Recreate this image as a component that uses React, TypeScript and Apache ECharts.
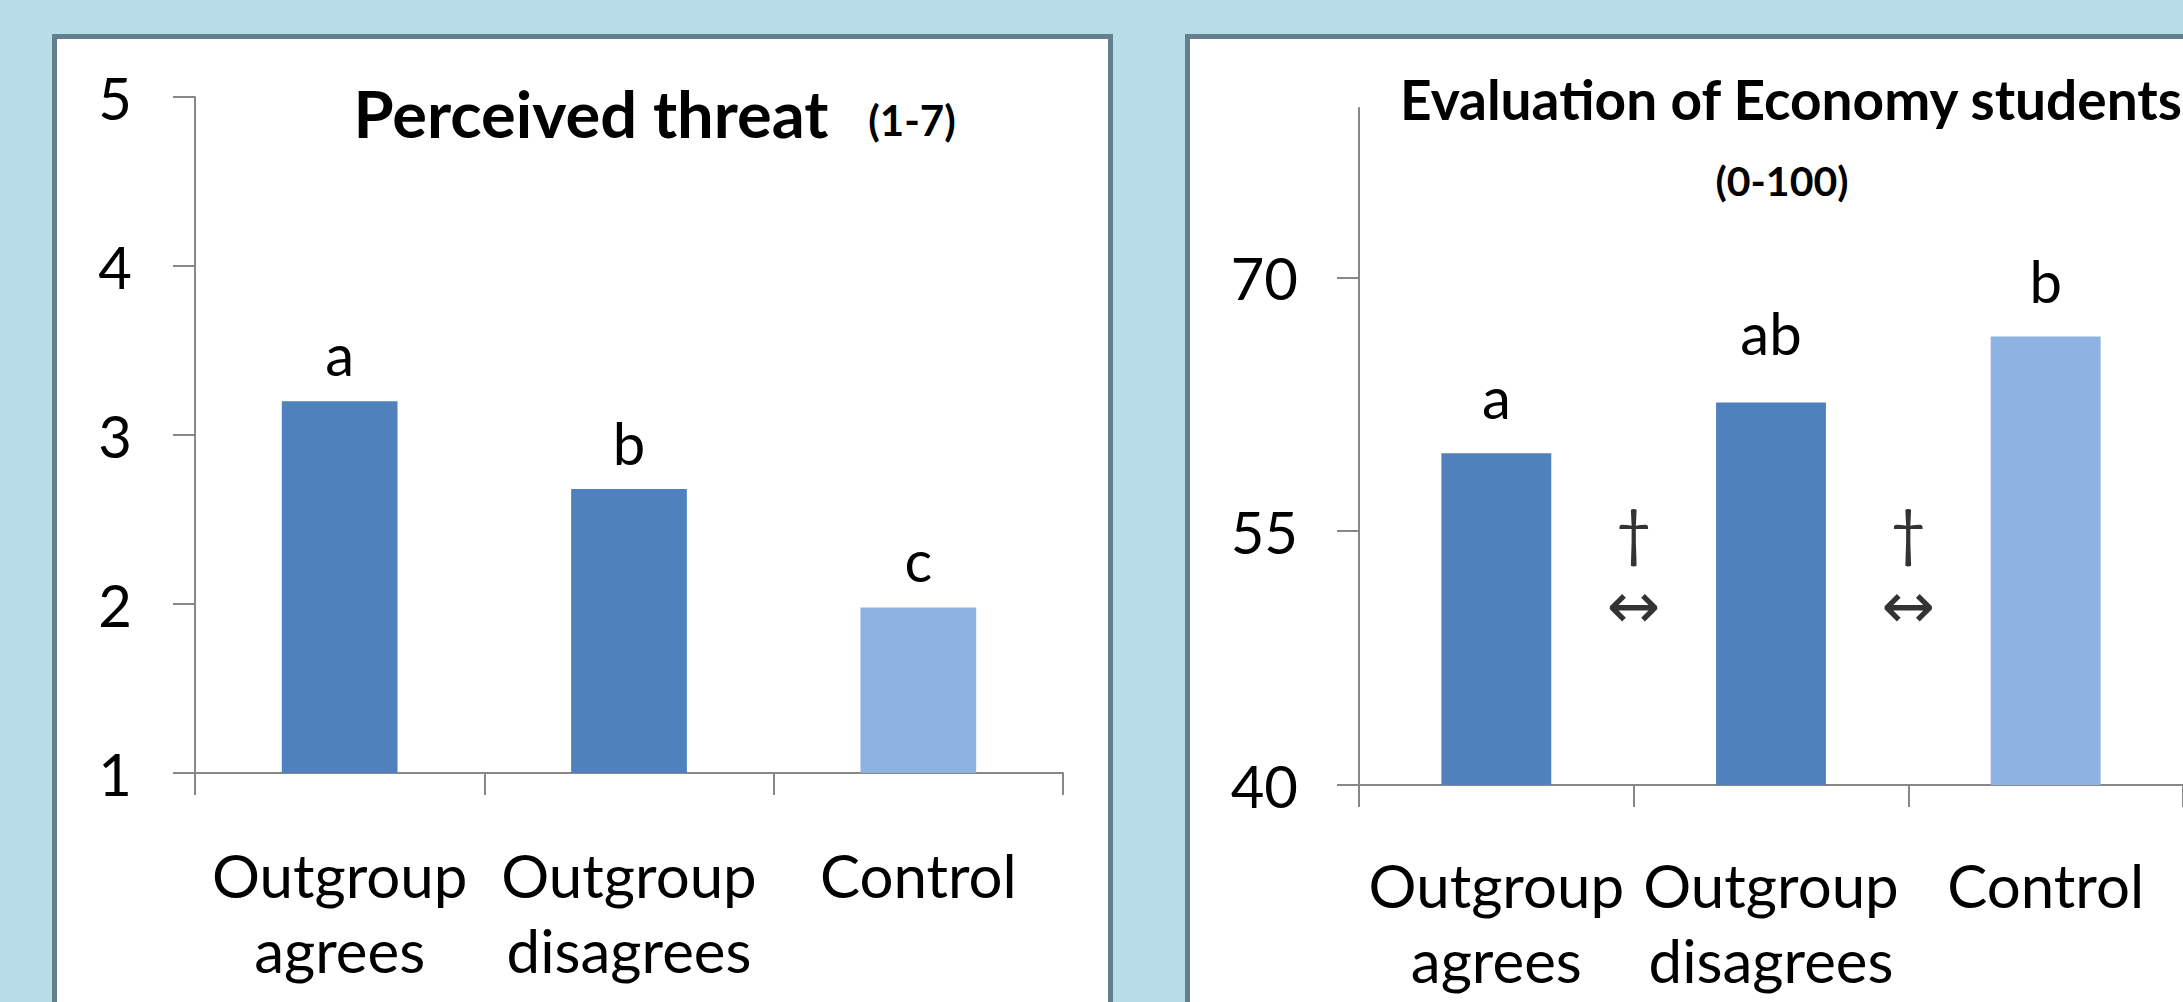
import React, { useEffect, useRef } from "react";
import * as echarts from "echarts";

// ---- data ----
const categories = ["Outgroup\nagrees", "Outgroup\ndisagrees", "Control"];
const threatTicks = [1, 2, 3, 4, 5];
const threatValues = [3.2, 2.68, 1.98];
const threatLetters = ["a", "b", "c"];
const evalTicks = [40, 55, 70];
const evalValues = [59.6, 62.6, 66.5];
const evalLetters = ["a", "ab", "b"];
const sigPositions = [0.5, 1.5]; // between neighbouring categories
const sigDaggerValue = 55;
const sigArrowValue = 50.6;

// ---- styles ----
const DARK = "#4f81bd";
const LIGHT = "#8db3e2";
const barColors = [DARK, DARK, LIGHT];
const threatLabelGaps = [19, 18, 19];
const evalLabelGaps = [28, 41, 27];
const AXIS = "#878787";
const FONT = "Lato";
const LABEL_SIZE = 58;
const CAT_SIZE = 60;

export default function App() {
  const ref = useRef<HTMLDivElement>(null);
  useEffect(() => {
    if (!ref.current) return;
    const chart = echarts.init(ref.current, null, { renderer: "svg" });
    const axisLineStyle = { color: AXIS, width: 2 };
    const catAxis = (grid: number, margin: number) => ({
      type: "category",
      gridIndex: grid,
      data: categories,
      axisLine: { show: true, onZero: false, lineStyle: axisLineStyle },
      axisTick: { show: true, length: 22, inside: false, lineStyle: axisLineStyle },
      axisLabel: {
        interval: 0,
        margin,
        fontSize: CAT_SIZE,
        lineHeight: 75,
        color: "#000",
        fontFamily: FONT,
      },
      splitLine: { show: false },
    });
    const barSeries = (xi: number, yi: number, values: number[], letters: string[], gaps: number[]) => ({
      type: "bar",
      xAxisIndex: xi,
      yAxisIndex: yi,
      barCategoryGap: "60%",
      data: values.map((v, i) => ({
        value: v,
        itemStyle: { color: barColors[i] },
        label: { distance: gaps[i] },
      })),
      label: {
        show: true,
        position: "top",
        formatter: (p: any) => letters[p.dataIndex],
        fontSize: LABEL_SIZE,
        lineHeight: LABEL_SIZE,
        color: "#000",
        fontFamily: FONT,
      },
    });
    const option: any = {
      animation: false,
      backgroundColor: "#b7dde8",
      textStyle: { fontFamily: FONT, color: "#000" },
      graphic: [
        {
          type: "rect",
          z: -1,
          shape: { x: 54.5, y: 36.5, width: 1056, height: 1100 },
          style: { fill: "#ffffff", stroke: "#647f8d", lineWidth: 5 },
        },
        {
          type: "rect",
          z: -1,
          shape: { x: 1187.5, y: 36.5, width: 1100, height: 1100 },
          style: { fill: "#ffffff", stroke: "#647f8d", lineWidth: 5 },
        },
        {
          type: "text",
          z: 10,
          x: 591,
          y: 113,
          style: {
            text: "Perceived threat",
            align: "center",
            verticalAlign: "middle",
            fontSize: 65,
            fontWeight: "bold",
            fontFamily: FONT,
            fill: "#000",
          },
        },
        {
          type: "text",
          z: 10,
          x: 912,
          y: 120,
          style: {
            text: "(1-7)",
            align: "center",
            verticalAlign: "middle",
            fontSize: 42,
            fontWeight: "bold",
            fontFamily: FONT,
            fill: "#000",
          },
        },
        {
          type: "text",
          z: 10,
          x: 1400,
          y: 99,
          style: {
            text: "Evaluation of Economy students",
            align: "left",
            verticalAlign: "middle",
            fontSize: 55,
            fontWeight: "bold",
            fontFamily: FONT,
            fill: "#000",
          },
        },
        {
          type: "text",
          z: 10,
          x: 1782,
          y: 180,
          style: {
            text: "(0-100)",
            align: "center",
            verticalAlign: "middle",
            fontSize: 41,
            fontWeight: "bold",
            fontFamily: FONT,
            fill: "#000",
          },
        },
      ],
      grid: [
        { left: 195, right: 1120, top: 97, bottom: 229 },
        { left: 1359, right: -12, top: 108, bottom: 217 },
      ],
      xAxis: [
        catAxis(0, 64),
        catAxis(1, 62),
        { type: "value", gridIndex: 1, min: -0.5, max: 2.5, show: false },
      ],
      yAxis: [
        {
          type: "value",
          gridIndex: 0,
          min: threatTicks[0],
          max: threatTicks[threatTicks.length - 1],
          interval: 1,
          splitLine: { show: false },
          axisLine: { show: true, onZero: false, lineStyle: axisLineStyle },
          axisTick: { show: true, length: 22, lineStyle: axisLineStyle },
          axisLabel: { margin: 63, fontSize: LABEL_SIZE, color: "#000", fontFamily: FONT },
        },
        {
          type: "value",
          gridIndex: 1,
          min: 40,
          max: 80,
          interval: 15,
          splitLine: { show: false },
          axisLine: { show: true, onZero: false, lineStyle: axisLineStyle },
          axisTick: { show: true, length: 22, lineStyle: axisLineStyle, customValues: evalTicks },
          axisLabel: {
            margin: 61,
            fontSize: LABEL_SIZE,
            color: "#000",
            fontFamily: FONT,
            customValues: evalTicks,
          },
        },
      ],
      series: [
        barSeries(0, 0, threatValues, threatLetters, threatLabelGaps),
        barSeries(1, 1, evalValues, evalLetters, evalLabelGaps),
        {
          type: "scatter",
          xAxisIndex: 2,
          yAxisIndex: 1,
          symbolSize: 0,
          data: sigPositions.map((x) => [x, sigDaggerValue]),
          label: {
            show: true,
            position: "inside",
            formatter: "†",
            fontSize: 62,
            color: "#000",
            fontFamily: FONT,
          },
        },
        {
          type: "scatter",
          xAxisIndex: 2,
          yAxisIndex: 1,
          symbolSize: 0,
          data: sigPositions.map((x) => [x, sigArrowValue]),
          label: {
            show: true,
            position: "inside",
            formatter: "↔",
            fontSize: 64,
            color: "#000",
            fontFamily: "DejaVu Sans",
          },
        },
      ],
    };
    chart.setOption(option);
    return () => chart.dispose();
  }, []);
  return (
    <div
      ref={ref}
      style={{ position: "absolute", left: 0, top: 0, width: 2183, height: 1002 }}
    />
  );
}
